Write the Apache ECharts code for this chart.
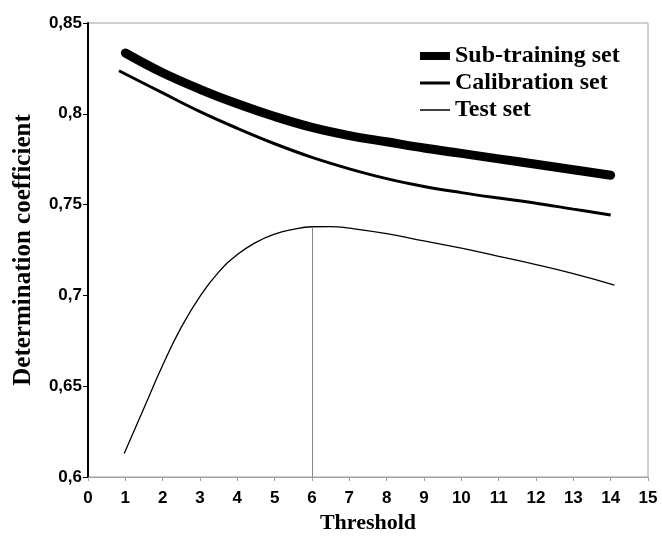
<!DOCTYPE html>
<html>
<head>
<meta charset="utf-8">
<script src="https://cdn.jsdelivr.net/npm/echarts@6/dist/echarts.min.js"></script>
<style>
  html, body { margin: 0; padding: 0; background: #fff; }
  #chart { width: 662px; height: 536px; }
</style>
</head>
<body>
<div id="chart"></div>
<script>
// values
var subTrainingX = [1, 2, 3, 4, 5, 6, 7, 8, 9, 10, 11, 12, 13, 14];
var subTrainingY = [0.8335, 0.8226, 0.8135, 0.8055, 0.7985, 0.7925, 0.788, 0.7846, 0.7812, 0.7782, 0.7752, 0.7722, 0.7692, 0.7662];

var calibrationX = [0.83, 2, 3, 4, 5, 6, 7, 8, 9, 10, 11, 12, 13, 14];
var calibrationY = [0.8237, 0.8115, 0.8012, 0.792, 0.7835, 0.776, 0.7697, 0.7643, 0.76, 0.7566, 0.7536, 0.7508, 0.7475, 0.7443];

var testX = [0.97, 1.5, 2, 2.5, 3, 3.5, 4, 4.5, 5, 5.5, 6, 6.5, 7, 8, 9, 10, 11, 12, 13, 14.1];
var testY = [0.613, 0.638, 0.6615, 0.6825, 0.6995, 0.7128, 0.7225, 0.7292, 0.7337, 0.7364, 0.7378, 0.7379, 0.737, 0.734, 0.730, 0.726, 0.7215, 0.717, 0.712, 0.7057];

var optimumThreshold = 6;
var seriesNames = ['Sub-training set', 'Calibration set', 'Test set'];
var legendBarHeights = [8, 3, 1.5];

function pairs(xs, ys) {
    return xs.map(function(x, i) { return [x, ys[i]]; });
}

var serif = '"Liberation Serif", "DejaVu Serif", serif';
var sans = '"Liberation Sans", Arial, sans-serif';

var myChart = echarts.init(document.getElementById('chart'));

var option = {
    animation: false,
    backgroundColor: '#fff',
    grid: {
        left: 88, right: 14, top: 23, bottom: 59,
        outerBoundsMode: 'none',
        show: true,
        borderColor: '#a0a0a0',
        borderWidth: 1
    },
    legend: {
        data: seriesNames.map(function(name, i) {
            return {
                name: name,
                icon: 'path://M0,0L30,0L30,' + legendBarHeights[i] + 'L0,' + legendBarHeights[i] + 'Z',
                itemStyle: { color: '#000', borderWidth: 0 }
            };
        }),
        orient: 'vertical',
        left: 415,
        top: 39,
        itemWidth: 30,
        itemHeight: 12,
        itemGap: 3,
        symbolKeepAspect: true,
        textStyle: { fontFamily: serif, fontWeight: 'bold', fontSize: 24, color: '#000' }
    },
    xAxis: {
        type: 'value',
        min: 0, max: 15, interval: 1,
        name: 'Threshold',
        nameLocation: 'middle',
        nameGap: 32,
        nameTextStyle: { fontFamily: serif, fontWeight: 'bold', fontSize: 22, color: '#000' },
        axisLine: { lineStyle: { color: '#a0a0a0', width: 1 } },
        axisTick: { show: true, length: 4, lineStyle: { color: '#a0a0a0' } },
        splitLine: { show: false },
        axisLabel: { fontFamily: sans, fontWeight: 'bold', fontSize: 17, color: '#000', margin: 13 }
    },
    yAxis: {
        type: 'value',
        min: 0.6, max: 0.85, interval: 0.05,
        name: 'Determination coefficient',
        nameLocation: 'middle',
        nameGap: 52,
        nameTextStyle: { fontFamily: serif, fontWeight: 'bold', fontSize: 25, color: '#000' },
        axisLine: { show: true, lineStyle: { color: '#000', width: 2 } },
        axisTick: { show: true, length: 5, lineStyle: { color: '#000' } },
        splitLine: { show: false },
        axisLabel: {
            fontFamily: sans, fontWeight: 'bold', fontSize: 17, color: '#000', margin: 6,
            formatter: function(v) { return String(+v.toFixed(2)).replace('.', ','); }
        }
    },
    series: [
        {
            name: seriesNames[0],
            type: 'line',
            smooth: 0.4,
            symbol: 'none',
            data: pairs(subTrainingX, subTrainingY),
            lineStyle: { color: '#000', width: 9, cap: 'round' },
            itemStyle: { color: '#000' },
            z: 3
        },
        {
            name: seriesNames[1],
            type: 'line',
            smooth: 0.4,
            symbol: 'none',
            data: pairs(calibrationX, calibrationY),
            lineStyle: { color: '#000', width: 3 },
            itemStyle: { color: '#000' },
            z: 3
        },
        {
            name: seriesNames[2],
            type: 'line',
            smooth: 0.5,
            symbol: 'none',
            data: pairs(testX, testY),
            lineStyle: { color: '#000', width: 1.3 },
            itemStyle: { color: '#000' },
            z: 3,
            markLine: {
                silent: true,
                symbol: 'none',
                label: { show: false },
                lineStyle: { color: '#888', width: 1, type: 'solid' },
                data: [[
                    { coord: [optimumThreshold, 0.6] },
                    { coord: [optimumThreshold, testY[testX.indexOf(optimumThreshold)]] }
                ]]
            }
        }
    ]
};

myChart.setOption(option);
</script>
</body>
</html>
